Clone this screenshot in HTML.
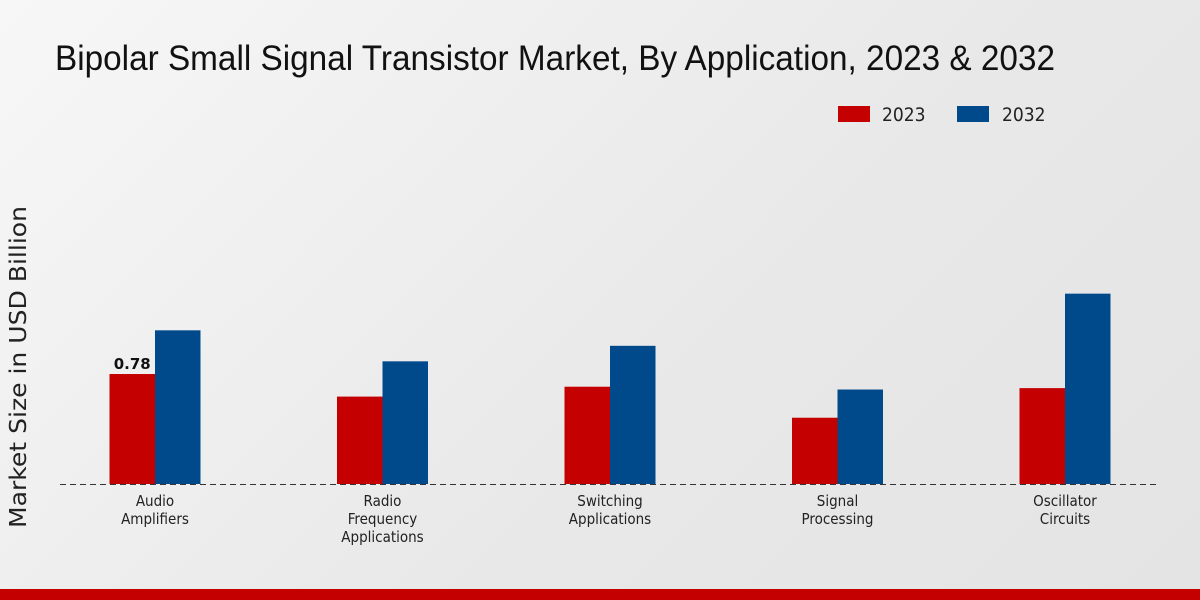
<!DOCTYPE html>
<html><head><meta charset="utf-8"><style>
html,body{margin:0;padding:0;}
body{width:1200px;height:600px;overflow:hidden;background:linear-gradient(135deg,#f7f7f7 0%,#e8e8e8 60%,#e4e4e4 100%);font-family:"Liberation Sans",sans-serif;position:relative;}
</style></head><body>
<svg width="1200" height="600" style="position:absolute;left:0;top:0">
<text x="55" y="70" font-family="Liberation Sans Narrow, Liberation Sans, sans-serif" font-size="35" fill="#111" textLength="1000" lengthAdjust="spacingAndGlyphs">Bipolar Small Signal Transistor Market, By Application, 2023 &amp; 2032</text>
<g>
<rect x="838" y="106" width="32" height="16" fill="#c40000"/>
<text x="882" y="121" font-size="19" fill="#222" font-family="DejaVu Sans Condensed, DejaVu Sans, sans-serif" font-stretch="condensed">2023</text>
<rect x="957" y="106" width="32" height="16" fill="#004a8b"/>
<text x="1002" y="121" font-size="19" fill="#222" font-family="DejaVu Sans Condensed, DejaVu Sans, sans-serif" font-stretch="condensed">2032</text>
</g>
<text transform="translate(26,367) rotate(-90)" text-anchor="middle" font-size="23" fill="#222" font-family="DejaVu Sans, sans-serif" textLength="322" lengthAdjust="spacingAndGlyphs">Market Size in USD Billion</text>
<g id="plot"></g>
<line x1="60" y1="484.5" x2="1160" y2="484.5" stroke="#333" stroke-dasharray="6,4"/>
<rect x="0" y="589" width="1200" height="11" fill="#c40000"/>
</svg>
<script>
const categories=[["Audio","Amplifiers"],["Radio","Frequency","Applications"],["Switching","Applications"],["Signal","Processing"],["Oscillator","Circuits"]];
const values2023=[0.78,0.62,0.69,0.47,0.68];
const values2032=[1.09,0.87,0.98,0.67,1.35];
const valueLabels=["0.78",null,null,null,null];
const NS="http://www.w3.org/2000/svg";
const g=document.getElementById('plot');
const base=484, scale=141, x0=155, step=227.5, bw=45.5;
const y=v=>base-v*scale;
const xc=i=>x0+i*step;
function mk(t,a){const e=document.createElementNS(NS,t);for(const k in a)e.setAttribute(k,a[k]);g.appendChild(e);return e;}
categories.forEach((c,i)=>{
  const r1=mk('rect',{x:xc(i)-bw,y:y(values2023[i]),width:bw,height:values2023[i]*scale,fill:'#c40000'});
  
  
  const r2=mk('rect',{x:xc(i),y:y(values2032[i]),width:bw,height:values2032[i]*scale,fill:'#004a8b'});
  
  
  if(valueLabels[i]){
    const t=mk('text',{x:xc(i)-bw/2,y:y(values2023[i])-5,'text-anchor':'middle','font-size':15,'font-weight':'bold',fill:'#111','font-family':'DejaVu Sans, sans-serif'});
    t.textContent=valueLabels[i];
    
    
  }
  c.forEach((ln,j)=>{
    const t=mk('text',{x:xc(i),y:506+j*18,'text-anchor':'middle','font-size':15,fill:'#222','font-family':'DejaVu Sans Condensed, DejaVu Sans, sans-serif','font-stretch':'condensed'});
    t.textContent=ln;
    
    
  });
});
</script>
</body></html>
